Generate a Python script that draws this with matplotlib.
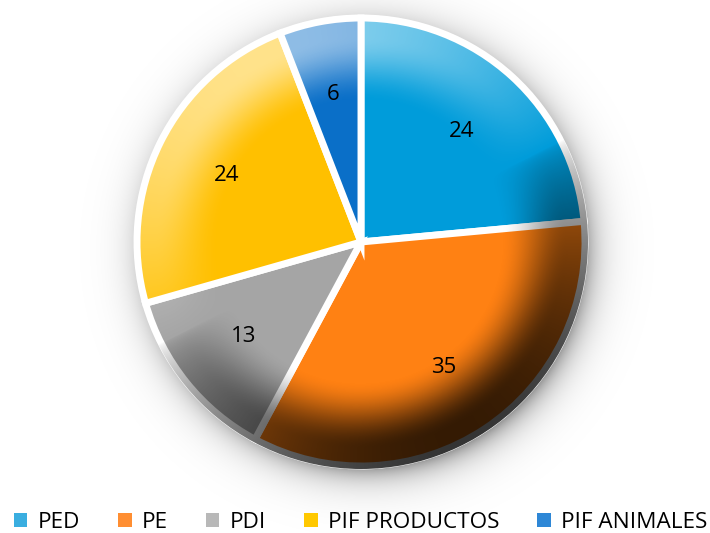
import numpy as np
import matplotlib.pyplot as plt
from matplotlib.patches import Patch, Circle

plt.rcParams['font.family'] = ['Open Sans', 'DejaVu Sans']

categories = ['PED', 'PE', 'PDI', 'PIF PRODUCTOS', 'PIF ANIMALES']
values = [24, 35, 13, 24, 6]
wedge_colors = ['#009cda', '#ff8113', '#a5a5a5', '#ffc000', '#0a6fc8']
legend_colors = ['#3aaee0', '#ff8e32', '#b8b8b8', '#ffc800', '#2e87d6']

W, H = 710, 533
cx, cy, R = 361, 291, 224

fig = plt.figure(figsize=(7.1, 5.33), dpi=100)
ax = fig.add_axes([0, 0, 1, 1])

# soft drop shadow
yy, xx = np.mgrid[0:H, 0:W] + 0.5
d = np.hypot(xx - (cx + 6), yy - (cy - 8))
sh = 0.40 * np.exp(-np.clip(d - (R - 6), 0, None) / 15.0)
shadow = np.zeros((H, W, 4))
shadow[..., 3] = sh
ax.imshow(shadow, extent=(0, W, 0, H), origin='lower', zorder=0, interpolation='bilinear')

total = sum(values)
wedges, texts, autotexts = ax.pie(
    values, colors=wedge_colors, startangle=90, counterclock=False,
    center=(cx, cy), radius=R, frame=True,
    wedgeprops=dict(edgecolor='white', linewidth=5),
    autopct=lambda p: '%d' % round(p * total / 100.0), pctdistance=0.67,
    textprops=dict(fontsize=16, color='black'))
ax.set_xlim(0, W)
ax.set_ylim(0, H)
ax.set_aspect('equal')
ax.axis('off')
for w in wedges:
    w.set_zorder(2)
for t in autotexts:
    t.set_zorder(5)

# bevel-like shading over the pie
n = 600
g = np.linspace(-1.03, 1.03, n)
gx, gy = np.meshgrid(g, g)
r = np.hypot(gx, gy)
L = np.array([-0.45, 0.89])
s = -(gx * L[0] + gy * L[1]) / np.maximum(r, 1e-6)
ramp = np.clip((r - 0.62) / 0.3, 0, 1)
ramp = ramp * ramp * (3 - 2 * ramp)
dark = 0.8 * np.clip(s, 0, 1) ** 0.6 * ramp
light = 0.55 * np.clip(-s, 0, 1) ** 0.9 * ramp
img = np.zeros((n, n, 4))
img[..., 0] = np.where(light > dark, 1.0, 0.0)
img[..., 1] = img[..., 0]
img[..., 2] = img[..., 0]
img[..., 3] = np.clip(np.maximum(dark, light), 0, 1)
ext = (cx - 1.03 * R, cx + 1.03 * R, cy - 1.03 * R, cy + 1.03 * R)
im = ax.imshow(img, extent=ext, origin='lower', zorder=3, interpolation='bilinear')
im.set_clip_path(Circle((cx, cy), R + 3, transform=ax.transData))

handles = [Patch(facecolor=c, edgecolor='none') for c in legend_colors]
fig.legend(handles, categories, loc='center', bbox_to_anchor=(0.508, 0.02),
           ncol=5, frameon=False, fontsize=16.2, handlelength=0.6, handleheight=0.6,
           handletextpad=0.45, columnspacing=1.7, borderaxespad=0)

fig.savefig('out.png', dpi=100)
